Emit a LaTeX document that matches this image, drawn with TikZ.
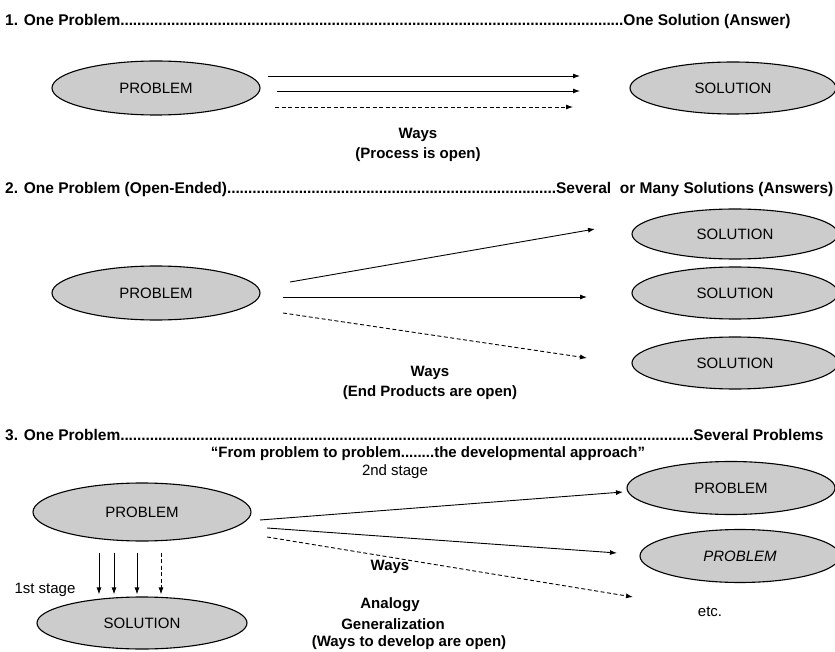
\documentclass[tikz,border=0pt]{standalone}
\usepackage{fontspec}
\setmainfont{Liberation Sans}
\usetikzlibrary{arrows.meta,shapes.geometric}

\newcommand{\leaderdots}{\xleaders\hbox to 4.2pt{\hss.\hss}\hfill}

\begin{document}
\begin{tikzpicture}[x=1pt,y=-1pt,
    oval/.style={ellipse,draw,line width=1.1pt,fill=black!20,minimum width=208pt,minimum height=54pt,inner sep=0pt,font=\fontsize{15}{18}\selectfont},
    way/.style={-{Latex[length=7pt,width=5pt]},line width=0.9pt},
    openway/.style={way,dash pattern=on 4pt off 2.5pt},
    heading/.style={anchor=west,inner sep=0pt,font=\bfseries\fontsize{15.5}{18}\selectfont},
    note/.style={align=center,inner sep=0pt,font=\bfseries\fontsize{15}{20}\selectfont},
    stage/.style={inner sep=0pt,font=\fontsize{15}{17}\selectfont}]
    \useasboundingbox (0,0) rectangle (835,652);

    % 1. one problem, one solution
    \node[heading] (t1) at (5,21) {\hbox to 785pt{1. One Problem\leaderdots One Solution (Answer)}};
    \node[oval] (p1) at (156,88) {PROBLEM};
    \node[oval,minimum width=206pt,minimum height=52pt] (s1) at (733,88) {SOLUTION};
    \node[note] (w1) at (418,145) {Ways\\(Process is open)};
    \coordinate (a1) at (268,76);  \coordinate (b1) at (580,76);
    \coordinate (a2) at (277,91);  \coordinate (b2) at (580,91);
    \coordinate (a3) at (275,107); \coordinate (b3) at (573,107);
    \draw[way] (a1) -- (b1);
    \draw[way] (a2) -- (b2);
    \draw[openway] (a3) -- (b3);

    % 2. open-ended problem, many solutions
    \node[heading] (t2) at (5,189) {\hbox to 828pt{2. One Problem (Open-Ended)\leaderdots Several~ or Many Solutions (Answers)}};
    \node[oval] (p2) at (156,293) {PROBLEM};
    \node[oval,minimum width=206pt,minimum height=50pt] (s2a) at (735,234) {SOLUTION};
    \node[oval,minimum width=206pt,minimum height=52pt] (s2b) at (735,293) {SOLUTION};
    \node[oval,minimum width=206pt,minimum height=52pt] (s2c) at (735,363) {SOLUTION};
    \node[note] (w2) at (430,383) {Ways\\(End Products are open)};
    \coordinate (c1) at (290,282); \coordinate (d1) at (595,229);
    \coordinate (c2) at (283,297); \coordinate (d2) at (587,297);
    \coordinate (c3) at (283,313); \coordinate (d3) at (587,358);
    \draw[way] (c1) -- (d1);
    \draw[way] (c2) -- (d2);
    \draw[openway] (c3) -- (d3);

    % 3. one problem, several problems
    \node[heading] (t3) at (5,435) {\hbox to 818pt{3. One Problem\leaderdots Several Problems}};
    \node[note] (sub) at (428,454) {``From problem to problem........the developmental approach''};
    \node[oval,minimum width=218pt,minimum height=58pt] (p3) at (142,512) {PROBLEM};
    \node[oval,minimum width=210pt,minimum height=52pt] (s3) at (142,623) {SOLUTION};
    \node[oval,minimum width=208pt,minimum height=53pt] (p4) at (731,488) {PROBLEM};
    \node[oval,minimum width=200pt,minimum height=53pt] (p5) at (740,556) {\itshape PROBLEM};
    \node[stage] (st1) at (45,590) {1st stage};
    \node[stage] (st2) at (395,472) {2nd stage};
    \node[note] (w3) at (390,567) {Ways};
    \node[note] (an) at (390,605) {Analogy};
    \node[note] (ge) at (393,624) {Generalization};
    \node[note] (op) at (409,643) {(Ways to develop are open)};
    \node[stage] (etc) at (710,612) {etc.};
    \foreach \dx in {-43,-28,-5}
        \draw[way,shorten <=11pt,shorten >=2pt] ([xshift=\dx pt]p3.south) -- ([xshift=\dx pt]p3.south |- s3.north);
    \draw[openway,shorten <=11pt,shorten >=2pt] ([xshift=19pt]p3.south) -- ([xshift=19pt]p3.south |- s3.north);
    \coordinate (e1) at (260,520); \coordinate (f1) at (623,492);
    \coordinate (e2) at (267,528); \coordinate (f2) at (617,553);
    \coordinate (e3) at (267,537); \coordinate (f3) at (633,597);
    \draw[way] (e1) -- (f1);
    \draw[way] (e2) -- (f2);
    \draw[openway] (e3) -- (f3);
\end{tikzpicture}
\end{document}
